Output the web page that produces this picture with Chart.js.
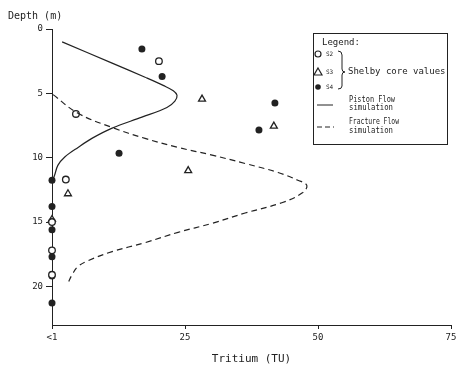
<!DOCTYPE html>
<html>
<head>
<meta charset="utf-8">
<script src="https://cdn.jsdelivr.net/npm/chart.js@4/dist/chart.umd.min.js"></script>
<style>
  html, body { margin: 0; padding: 0; background: #fff; }
  #wrap { width: 460px; height: 366px; }
</style>
</head>
<body>
<div id="wrap"><canvas id="chart1"></canvas></div>
<script>
// Shelby core samples (tritium TU vs depth m)
const s2Tritium = [20.1, 4.5, 2.6, 0, 0, 0];
const s2Depth = [2.5, 6.6, 11.7, 15.0, 17.2, 19.1];

const s3Tritium = [28.2, 41.7, 25.6, 3.0, 0];
const s3Depth = [5.45, 7.55, 11.0, 12.8, 14.8];

const s4Tritium = [16.9, 20.7, 41.9, 38.9, 12.6, 0, 0, 0, 0, 0, 0];
const s4Depth = [1.55, 3.7, 5.75, 7.85, 9.65, 11.75, 13.8, 15.6, 17.7, 19.2, 21.3];

// simulation curves
const pistonTritium = [1.9, 11.3, 17.5, 21.0, 22.8, 23.5, 23.1, 21.6, 16.9, 11.3, 7.5, 4.9, 2.4, 1.1, 0.5, 0.1];
const pistonDepth = [1.0, 2.65, 3.75, 4.4, 4.8, 5.15, 5.6, 6.1, 6.85, 7.7, 8.5, 9.2, 9.95, 10.6, 11.35, 11.8];

const fractureTritium = [0.2, 4.9, 11.3, 17.5, 23.7, 30.1, 36.3, 42.5, 46.2, 47.9, 47.0, 43.2, 36.3, 30.1, 23.7, 17.5, 11.3, 6.8, 4.9, 3.9, 3.0];
const fractureDepth = [5.1, 6.55, 7.65, 8.5, 9.2, 9.8, 10.45, 11.15, 11.75, 12.15, 12.75, 13.5, 14.3, 15.1, 15.8, 16.6, 17.3, 18.0, 18.45, 19.0, 19.75];

const xTicks = [0, 25, 50, 75];
const yTicks = [0, 5, 10, 15, 20];

function pairs(xs, ys) {
  return xs.map((x, i) => ({ x: x, y: ys[i] }));
}

const ink = "#222";
const mono = "'DejaVu Sans Mono', monospace";

const extraText = {
  id: "extraText",
  afterDraw(chart) {
    const ctx = chart.ctx;
    ctx.save();
    ctx.fillStyle = ink;
    ctx.strokeStyle = ink;
    ctx.textBaseline = "middle";
    ctx.font = "10px " + mono;
    ctx.fillText("Depth (m)", 8, 16);

    // legend box
    ctx.lineWidth = 1;
    ctx.strokeRect(313.5, 33.5, 134, 111);
    ctx.font = "9px " + mono;
    ctx.fillText("Legend:", 322, 43, 38);

    ctx.lineWidth = 1.2;
    ctx.beginPath();
    ctx.arc(318, 54, 3, 0, Math.PI * 2);
    ctx.fillStyle = "#fff";
    ctx.fill();
    ctx.stroke();
    ctx.beginPath();
    ctx.moveTo(318, 68);
    ctx.lineTo(322, 75);
    ctx.lineTo(314, 75);
    ctx.closePath();
    ctx.stroke();
    ctx.beginPath();
    ctx.arc(318, 87, 2.8, 0, Math.PI * 2);
    ctx.fillStyle = ink;
    ctx.fill();

    ctx.font = "6px " + mono;
    ctx.fillText("S2", 326, 54);
    ctx.fillText("S3", 326, 72);
    ctx.fillText("S4", 326, 87);

    // bracket
    ctx.lineWidth = 1;
    ctx.beginPath();
    ctx.moveTo(338, 51);
    ctx.quadraticCurveTo(342, 51, 342, 55);
    ctx.lineTo(342, 69);
    ctx.quadraticCurveTo(342, 72, 345, 72);
    ctx.quadraticCurveTo(342, 72, 342, 75);
    ctx.lineTo(342, 86);
    ctx.quadraticCurveTo(342, 89, 338, 89);
    ctx.stroke();

    ctx.font = "9px " + mono;
    ctx.fillText("Shelby core values", 348, 72, 98);

    ctx.beginPath();
    ctx.moveTo(317, 105);
    ctx.lineTo(333, 105);
    ctx.stroke();
    ctx.setLineDash([5, 3]);
    ctx.beginPath();
    ctx.moveTo(317, 127);
    ctx.lineTo(334, 127);
    ctx.stroke();
    ctx.setLineDash([]);

    ctx.font = "8px " + mono;
    ctx.fillText("Piston Flow", 349, 100, 46);
    ctx.fillText("simulation", 349, 108, 44);
    ctx.fillText("Fracture Flow", 349, 122, 50);
    ctx.fillText("simulation", 349, 131, 44);
    ctx.restore();
  },
};

function drawChart(canvasId) {
  const ctx = document.getElementById(canvasId).getContext("2d");
  new Chart(ctx, {
    type: "scatter",
    data: {
      datasets: [
        {
          label: "Piston Flow simulation",
          data: pairs(pistonTritium, pistonDepth),
          showLine: true,
          borderColor: ink,
          borderWidth: 1.2,
          pointRadius: 0,
          tension: 0.35,
          clip: false,
        },
        {
          label: "Fracture Flow simulation",
          data: pairs(fractureTritium, fractureDepth),
          showLine: true,
          borderColor: ink,
          borderWidth: 1.2,
          borderDash: [6, 4],
          pointRadius: 0,
          tension: 0.4,
          clip: false,
        },
        {
          label: "S2",
          data: pairs(s2Tritium, s2Depth),
          pointStyle: "circle",
          pointRadius: 3.3,
          borderWidth: 1.3,
          borderColor: ink,
          backgroundColor: "#fff",
          clip: false,
        },
        {
          label: "S3",
          data: pairs(s3Tritium, s3Depth),
          pointStyle: "triangle",
          pointRadius: 4,
          borderWidth: 1.3,
          borderColor: ink,
          backgroundColor: "#fff",
          clip: false,
        },
        {
          label: "S4",
          data: pairs(s4Tritium, s4Depth),
          pointStyle: "circle",
          pointRadius: 3.5,
          borderWidth: 0,
          borderColor: ink,
          backgroundColor: ink,
          clip: false,
        },
      ],
    },
    options: {
      responsive: true,
      maintainAspectRatio: false,
      animation: false,
      layout: { padding: { top: 29, right: 9, left: 0, bottom: 0 } },
      plugins: { legend: { display: false }, tooltip: { enabled: false } },
      scales: {
        x: {
          type: "linear",
          min: 0,
          max: 75,
          afterBuildTicks: (s) => { s.ticks = xTicks.map((v) => ({ value: v })); },
          afterFit: (s) => { s.height = 41; },
          border: { display: true, color: ink, width: 1 },
          grid: { display: true, drawOnChartArea: false, drawTicks: true, tickLength: 4, color: ink },
          ticks: {
            color: ink,
            font: { family: mono, size: 9 },
            padding: 3,
            maxRotation: 0,
            callback: (v) => (v === 0 ? "<1" : v),
          },
          title: {
            display: true,
            text: "Tritium (TU)",
            color: ink,
            font: { family: mono, size: 11 },
            padding: { top: 3, bottom: 0 },
          },
        },
        y: {
          type: "linear",
          reverse: true,
          min: 0,
          max: 23,
          afterBuildTicks: (s) => { s.ticks = yTicks.map((v) => ({ value: v })); },
          afterFit: (s) => { s.width = 52; },
          border: { display: true, color: ink, width: 1 },
          grid: { display: true, drawOnChartArea: false, drawTicks: true, tickLength: 6, color: ink },
          ticks: {
            color: ink,
            font: { family: mono, size: 9 },
            padding: 3,
          },
        },
      },
    },
    plugins: [extraText],
  });
}

drawChart("chart1");
</script>
</body>
</html>
